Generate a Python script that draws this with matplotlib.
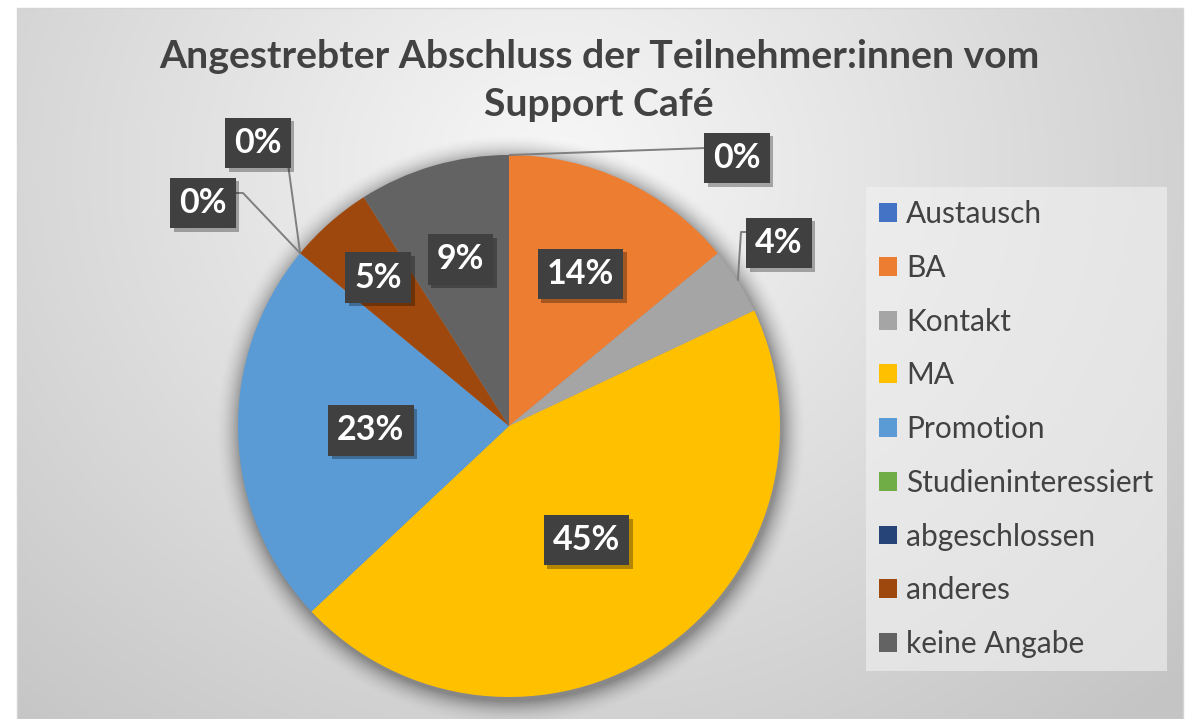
import numpy as np
import matplotlib
matplotlib.use("Agg")
import matplotlib.pyplot as plt
from matplotlib.patches import Rectangle
from matplotlib import patheffects as pe

# --- data -------------------------------------------------------------
categories = ["Austausch", "BA", "Kontakt", "MA", "Promotion",
              "Studieninteressiert", "abgeschlossen", "anderes", "keine Angabe"]
shares = [0, 14, 4, 45, 23, 0, 0, 5, 9]
colors = ["#4472C4", "#ED7D31", "#A5A5A5", "#FFC000", "#5B9BD5",
          "#70AD47", "#264478", "#9E480E", "#636363"]
title_lines = ["Angestrebter Abschluss der Teilnehmer:innen vom", "Support Café"]

# --- canvas (pixel coordinates, y downwards) --------------------------
W, H = 1189, 719
fig = plt.figure(figsize=(W / 100, H / 100), dpi=100)
fig.patch.set_facecolor("white")
ax = fig.add_axes([0, 0, 1, 1])
ax.axis("off")

FONT = "Lato"
TEXT_COLOR = "#424242"

# chart area with a soft radial gradient
x0, y0, x1, y1 = 17, 8, 1183, 719
yy, xx = np.mgrid[y0:y1, x0:x1] + 0.5
d = np.sqrt(((xx - 560) / 720) ** 2 + ((yy - 170) / 640) ** 2)
g = np.clip(0.97 - 0.17 * d, 0.77, 1.0)
ax.imshow(np.dstack([g, g, g]), extent=(x0, x1, y1, y0), origin="upper",
          zorder=0, interpolation="bilinear")
ax.add_patch(Rectangle((x0, y0), x1 - x0, y1 - y0, fill=False,
                       edgecolor="#d4d4d4", linewidth=1.0, zorder=1))

# pie geometry
cx, cy, R = 509, 426, 271

# soft shadow under the pie
pad = 40
sy, sx = np.mgrid[cy - R - pad:cy + R + pad, cx - R - pad:cx + R + pad] + 0.5
dist = np.hypot(sx - (cx + 2), sy - (cy + 4))
a = np.clip(1 - (dist - R) / 26, 0, 1) ** 2 * 0.36
shadow = np.zeros(sx.shape + (4,))
shadow[..., 3] = a
ax.imshow(shadow, extent=(cx - R - pad, cx + R + pad, cy + R + pad, cy - R - pad),
          origin="upper", zorder=2, interpolation="bilinear")

wedges, _ = ax.pie(shares, colors=colors, startangle=-90, counterclock=True,
                   center=(cx, cy), radius=R, frame=True,
                   wedgeprops=dict(linewidth=0))
for w in wedges:
    w.set_zorder(3)


def edge_point(w, frac=1.0):
    th = np.deg2rad((w.theta1 + w.theta2) / 2)
    return cx + frac * R * np.cos(th), cy + frac * R * np.sin(th)


def data_label(x, y, txt):
    t = ax.text(x, y, txt, ha="center", va="center", fontsize=24.5,
                fontweight="bold", family=FONT, color="white", zorder=6,
                bbox=dict(boxstyle="square,pad=0.27", facecolor="#404040",
                          edgecolor="none"))
    t.get_bbox_patch().set_path_effects(
        [pe.SimplePatchShadow(offset=(2.5, -2.5), shadow_rgbFace="black", alpha=0.3),
         pe.Normal()])


# labels placed inside their slices (radial fraction of the radius)
inside = {"BA": 0.62, "MA": 0.51, "Promotion": 0.51,
          "anderes": 0.73, "keine Angabe": 0.64}
# labels placed outside with leader lines: box centre + leader waypoints
outside = {
    "Austausch": ((737, 158), [(706, 148)]),
    "Kontakt": ((779, 243), [(741, 232), (748, 232)]),
    "Studieninteressiert": ((203, 203), [(243, 193), (234, 193)]),
    "abgeschlossen": ((258, 143), [(288, 164)]),
}

for w, cat, v in zip(wedges, categories, shares):
    txt = f"{v}%"
    if cat in inside:
        x, y = edge_point(w, inside[cat])
        data_label(x, y, txt)
    elif cat in outside:
        (bx, by), path = outside[cat]
        ex, ey = edge_point(w, 1.0)
        pts = [(ex, ey)] + path
        ax.plot([p[0] for p in pts], [p[1] for p in pts], color="#7f7f7f",
                linewidth=1.4, zorder=4, solid_capstyle="butt")
        data_label(bx, by, txt)

# title
for i, line in enumerate(title_lines):
    ax.text(599, 56 + 48 * i, line, ha="center", va="center", fontsize=28.2,
            fontweight="bold", family=FONT, color=TEXT_COLOR, zorder=6)

# legend
leg = ax.legend(wedges, categories, loc="upper left",
                bbox_to_anchor=(866 / W, 1 - 187 / H), bbox_transform=ax.transAxes,
                borderaxespad=0, frameon=True, fancybox=False,
                prop=dict(family=FONT, size=21.5), labelcolor=TEXT_COLOR,
                handlelength=0.6, handleheight=0.6, handletextpad=0.3,
                labelspacing=0.86, borderpad=0.45)
frame = leg.get_frame()
frame.set_facecolor("#f2f2f2")
frame.set_alpha(0.6)
frame.set_edgecolor("none")
leg.set_zorder(6)

ax.set_xlim(0, W)
ax.set_ylim(H, 0)
ax.set_aspect("auto")

fig.savefig("out.png", dpi=100, facecolor="white")
